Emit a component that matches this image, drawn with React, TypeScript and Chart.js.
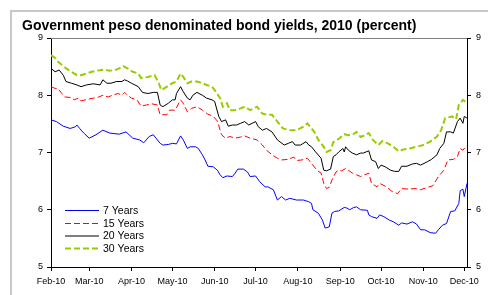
import React, { useEffect, useRef } from "react";
import { Chart, registerables } from "chart.js";

Chart.register(...registerables);

const TITLE = "Government peso denominated bond yields, 2010 (percent)";
const monthTicks = [0, 28, 59, 89, 120, 150, 181, 212, 242, 273, 303];
const monthLabels = ["Feb-10", "Mar-10", "Apr-10", "May-10", "Jun-10", "Jul-10", "Aug-10", "Sep-10", "Oct-10", "Nov-10", "Dec-10"];
const seriesNames = ["7 Years", "15 Years", "20 Years", "30 Years"];

// days since 1 Feb 2010
const days7 = [0, 4, 9, 14, 18, 19, 21, 24, 28, 33, 38, 43, 50, 55, 60, 65, 68, 72, 75, 80, 82, 86, 89, 92, 95, 97, 100, 102, 106, 108, 111, 113, 115, 119, 122, 124, 126, 129, 133, 135, 137, 141, 144, 146, 150, 153, 157, 159, 163, 166, 169, 172, 175, 180, 185, 189, 191, 192, 196, 199, 201, 204, 206, 208, 211, 215, 217, 219, 222, 224, 227, 232, 233, 235, 239, 241, 244, 248, 251, 255, 257, 261, 265, 268, 271, 274, 278, 282, 284, 287, 290, 293, 296, 299, 300, 302, 303, 305];
const yield7 = [7.57, 7.54, 7.46, 7.42, 7.45, 7.48, 7.42, 7.34, 7.25, 7.31, 7.39, 7.34, 7.32, 7.36, 7.25, 7.22, 7.17, 7.28, 7.31, 7.16, 7.13, 7.14, 7.16, 7.15, 7.29, 7.22, 7.07, 7.10, 7.10, 7.07, 6.96, 6.87, 6.76, 6.75, 6.69, 6.61, 6.56, 6.59, 6.58, 6.64, 6.71, 6.71, 6.66, 6.58, 6.59, 6.49, 6.40, 6.40, 6.35, 6.17, 6.23, 6.17, 6.20, 6.17, 6.17, 6.14, 6.11, 6.00, 5.94, 5.82, 5.68, 5.70, 5.94, 5.97, 5.98, 6.04, 6.03, 6.00, 6.04, 6.05, 6.00, 5.99, 5.91, 5.88, 5.85, 5.91, 5.88, 5.82, 5.79, 5.73, 5.77, 5.75, 5.79, 5.75, 5.65, 5.65, 5.60, 5.59, 5.65, 5.73, 5.76, 5.97, 5.98, 6.11, 6.33, 6.36, 6.23, 6.46];

const days15 = [0, 3, 5, 8, 10, 15, 17, 20, 22, 27, 31, 34, 38, 42, 45, 49, 52, 54, 56, 59, 63, 66, 70, 74, 78, 80, 85, 87, 91, 95, 97, 100, 103, 107, 111, 115, 119, 122, 125, 128, 131, 135, 139, 142, 146, 151, 155, 158, 162, 166, 169, 174, 178, 180, 184, 188, 191, 195, 198, 200, 202, 204, 206, 209, 211, 213, 216, 218, 221, 224, 227, 230, 233, 235, 239, 241, 246, 250, 254, 257, 262, 267, 271, 276, 280, 284, 288, 291, 295, 298, 300, 302, 304, 305];
const yield15 = [8.15, 8.12, 8.12, 8.03, 7.97, 7.96, 7.92, 7.95, 7.90, 7.93, 7.95, 7.96, 8.00, 7.97, 8.00, 8.03, 8.00, 8.05, 8.00, 7.95, 7.92, 7.81, 7.83, 7.85, 7.83, 7.66, 7.66, 7.74, 7.74, 7.92, 7.86, 7.71, 7.77, 7.80, 7.74, 7.67, 7.63, 7.55, 7.31, 7.25, 7.28, 7.25, 7.27, 7.29, 7.25, 7.22, 7.13, 7.04, 6.96, 6.90, 6.87, 6.88, 6.92, 6.86, 6.87, 6.90, 6.81, 6.69, 6.64, 6.46, 6.37, 6.39, 6.52, 6.66, 6.69, 6.68, 6.72, 6.69, 6.64, 6.61, 6.58, 6.61, 6.64, 6.46, 6.40, 6.46, 6.40, 6.32, 6.28, 6.37, 6.36, 6.37, 6.35, 6.39, 6.42, 6.58, 6.69, 6.87, 6.88, 6.93, 7.07, 7.04, 7.10, 7.12];

const days20 = [0, 3, 6, 9, 11, 15, 19, 22, 26, 31, 36, 38, 41, 44, 48, 52, 54, 56, 59, 64, 67, 71, 75, 78, 80, 82, 86, 89, 91, 92, 95, 97, 100, 102, 104, 107, 111, 114, 118, 120, 123, 125, 128, 130, 133, 136, 139, 142, 145, 150, 152, 155, 158, 162, 166, 171, 174, 177, 179, 183, 187, 189, 191, 194, 198, 200, 202, 205, 207, 209, 211, 214, 215, 216, 218, 221, 224, 227, 229, 233, 235, 238, 240, 242, 245, 249, 252, 255, 257, 261, 265, 268, 271, 276, 279, 283, 285, 288, 290, 293, 295, 298, 300, 302, 303, 305];
const yield20 = [8.47, 8.41, 8.44, 8.35, 8.24, 8.21, 8.18, 8.15, 8.18, 8.20, 8.18, 8.27, 8.21, 8.21, 8.24, 8.24, 8.27, 8.25, 8.21, 8.15, 8.05, 8.03, 8.05, 8.05, 7.83, 7.80, 7.86, 7.92, 7.92, 8.03, 8.15, 8.06, 7.95, 7.92, 8.00, 8.05, 8.00, 7.95, 7.92, 7.89, 7.63, 7.54, 7.57, 7.46, 7.48, 7.48, 7.51, 7.54, 7.48, 7.54, 7.45, 7.39, 7.42, 7.36, 7.22, 7.13, 7.16, 7.19, 7.13, 7.13, 7.19, 7.13, 7.10, 7.01, 6.90, 6.69, 6.68, 6.71, 6.93, 6.96, 7.01, 7.07, 7.01, 7.10, 7.04, 6.99, 6.96, 6.99, 6.99, 7.03, 6.87, 6.84, 6.72, 6.78, 6.75, 6.69, 6.67, 6.67, 6.76, 6.76, 6.80, 6.81, 6.78, 6.84, 6.88, 6.96, 7.07, 7.16, 7.36, 7.36, 7.34, 7.54, 7.60, 7.51, 7.63, 7.60];

const days30 = [0, 3, 5, 8, 11, 15, 19, 22, 26, 30, 34, 39, 43, 47, 50, 53, 56, 60, 64, 66, 71, 76, 79, 81, 85, 89, 92, 95, 97, 100, 103, 107, 111, 114, 118, 120, 124, 126, 129, 131, 135, 139, 142, 146, 151, 155, 158, 162, 166, 170, 175, 180, 185, 188, 193, 196, 200, 202, 205, 207, 211, 215, 218, 221, 224, 227, 230, 233, 236, 240, 243, 247, 251, 255, 258, 263, 268, 273, 278, 283, 286, 289, 294, 297, 299, 301, 302, 305];
const yield30 = [8.70, 8.65, 8.59, 8.53, 8.47, 8.41, 8.35, 8.35, 8.38, 8.41, 8.43, 8.45, 8.43, 8.44, 8.47, 8.51, 8.47, 8.41, 8.38, 8.30, 8.32, 8.35, 8.21, 8.09, 8.15, 8.21, 8.24, 8.38, 8.32, 8.21, 8.24, 8.24, 8.21, 8.18, 8.15, 8.09, 7.95, 7.80, 7.86, 7.74, 7.74, 7.77, 7.80, 7.74, 7.80, 7.68, 7.66, 7.66, 7.54, 7.42, 7.39, 7.39, 7.45, 7.51, 7.36, 7.22, 7.10, 7.01, 7.04, 7.18, 7.24, 7.32, 7.30, 7.31, 7.36, 7.27, 7.30, 7.34, 7.22, 7.13, 7.20, 7.16, 7.10, 7.02, 7.05, 7.07, 7.10, 7.13, 7.19, 7.28, 7.39, 7.60, 7.63, 7.58, 7.83, 7.89, 7.92, 7.86];

const colors = ["#0000ff", "#ff0000", "#000000", "#99cc00"];
const widths = [1, 1, 1, 2];
const dashes: number[][] = [[], [6, 3], [], [6, 3]];
const FONT = '"Liberation Sans", Arial, sans-serif';

const toPts = (d: number[], v: number[]) => d.map((x, i) => ({ x, y: v[i] }));

const decorPlugin = {
  id: "decor",
  beforeDraw(chart: any) {
    const ctx = chart.ctx;
    ctx.save();
    ctx.strokeStyle = "#c8c8c8";
    ctx.lineWidth = 2;
    ctx.beginPath();
    ctx.moveTo(11, 296);
    ctx.lineTo(11, 11);
    ctx.lineTo(490, 11);
    ctx.stroke();
    ctx.fillStyle = "#000";
    ctx.font = "bold 14px " + FONT;
    ctx.textBaseline = "alphabetic";
    ctx.textAlign = "left";
    ctx.fillText(TITLE, 22, 30);
    ctx.restore();
  },
  afterDraw(chart: any) {
    const ctx = chart.ctx;
    const a = chart.chartArea;
    ctx.save();
    ctx.strokeStyle = "#808080";
    ctx.lineWidth = 1;
    ctx.beginPath();
    ctx.moveTo(a.left, a.top + 0.5);
    ctx.lineTo(a.right, a.top + 0.5);
    ctx.stroke();
    // legend
    const rowsY = [210, 223, 235.5, 248];
    ctx.font = "10.5px " + FONT;
    ctx.textBaseline = "middle";
    ctx.textAlign = "left";
    seriesNames.forEach((name, i) => {
      const y = rowsY[i];
      ctx.strokeStyle = colors[i];
      ctx.lineWidth = widths[i];
      ctx.setLineDash(dashes[i]);
      ctx.beginPath();
      ctx.moveTo(65, y + 0.5);
      ctx.lineTo(99, y + 0.5);
      ctx.stroke();
      ctx.setLineDash([]);
      ctx.fillStyle = "#000";
      ctx.fillText(name, 103, y + 1);
    });
    ctx.restore();
  },
};

export default function App() {
  const ref = useRef<HTMLCanvasElement>(null);
  useEffect(() => {
    if (!ref.current) return;
    const datasets = [
      [days7, yield7],
      [days15, yield15],
      [days20, yield20],
      [days30, yield30],
    ].map(([d, v], i) => ({
      label: seriesNames[i],
      data: toPts(d as number[], v as number[]),
      borderColor: colors[i],
      backgroundColor: colors[i],
      borderWidth: widths[i],
      borderDash: dashes[i],
      pointRadius: 0,
      tension: 0,
      fill: false,
      yAxisID: "y",
    }));
    const tickFont = { family: FONT, size: 9 };
    const chart = new Chart(ref.current, {
      type: "line",
      data: { datasets },
      options: {
        animation: false,
        responsive: false,
        maintainAspectRatio: false,
        layout: { padding: { left: 22, right: 0, top: 38, bottom: 0 } },
        plugins: { legend: { display: false }, title: { display: false }, tooltip: { enabled: false } },
        scales: {
          x: {
            type: "linear",
            min: 0,
            max: 305,
            afterBuildTicks: (s: any) => {
              s.ticks = monthTicks.map((v) => ({ value: v }));
            },
            afterFit: (s: any) => {
              s.height = 28;
            },
            ticks: {
              autoSkip: false,
              maxRotation: 0,
              padding: 5,
              color: "#000",
              font: tickFont,
              callback: (v: any) => monthLabels[monthTicks.indexOf(Number(v))] ?? "",
            },
            grid: { drawOnChartArea: false, drawTicks: true, tickLength: 4, color: "#000" },
            border: { display: true, color: "#000", width: 1 },
          },
          y: {
            position: "left",
            min: 5,
            max: 9,
            afterFit: (s: any) => {
              s.width = 29;
            },
            ticks: { stepSize: 1, padding: 4, color: "#000", font: tickFont },
            grid: { drawOnChartArea: false, drawTicks: true, tickLength: 4, color: "#000" },
            border: { display: true, color: "#000", width: 1 },
          },
          y1: {
            position: "right",
            min: 5,
            max: 9,
            afterFit: (s: any) => {
              s.width = 21;
            },
            ticks: { stepSize: 1, padding: 5, color: "#000", font: tickFont },
            grid: { drawOnChartArea: false, drawTicks: true, tickLength: 4, color: "#000" },
            border: { display: true, color: "#000", width: 1 },
          },
        },
      },
      plugins: [decorPlugin],
    } as any);
    return () => chart.destroy();
  }, []);
  return (
    <div style={{ position: "absolute", left: 0, top: 0, width: 488, height: 295, background: "#fff" }}>
      <canvas ref={ref} width={488} height={295} style={{ display: "block", width: 488, height: 295 }} />
    </div>
  );
}
